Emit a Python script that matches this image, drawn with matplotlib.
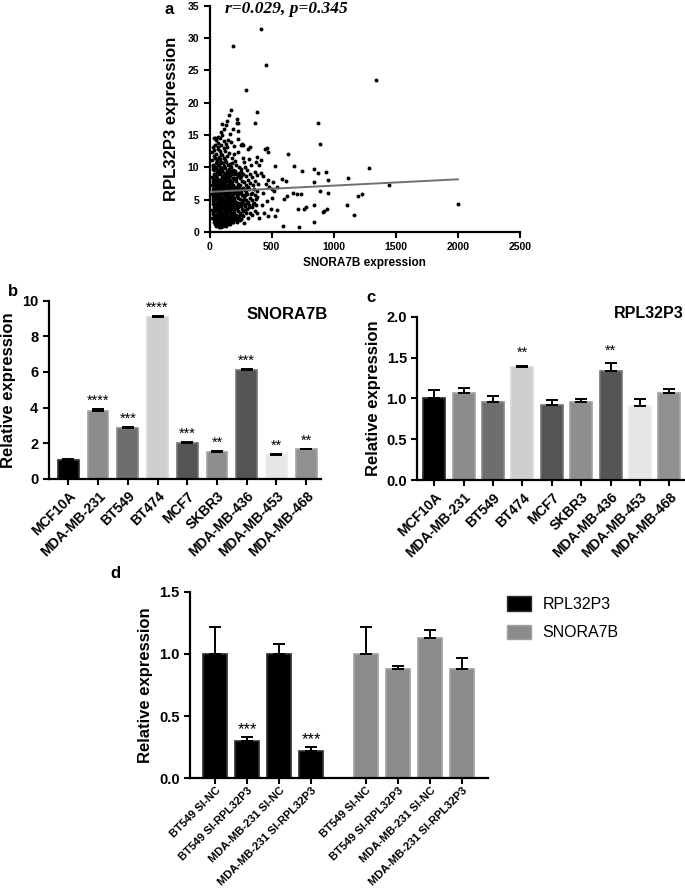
import matplotlib
matplotlib.use("Agg")
import matplotlib.pyplot as plt
import numpy as np

plt.rcParams["font.family"] = ["Liberation Sans", "DejaVu Sans"]

# ---- panel a: SNORA7B vs RPL32P3 expression ----
scatter_pts = [
    # dense cluster
    (21, 2.1), (18, 3.4), (23, 4.8), (19, 5.9), (22, 7.2), (17, 8.5), (24, 9.8), (20, 11.2), (22, 12.4), (26, 6.6),
    (31, 1.5), (28, 2.8), (33, 3.9), (29, 5.1), (32, 6.3), (27, 7.7), (34, 9.0), (30, 10.4), (33, 11.8), (29, 4.4), (35, 8.2),
    (41, 1.2), (38, 2.3), (43, 3.2), (39, 4.3), (44, 5.5), (37, 6.8), (42, 7.5), (45, 8.8), (40, 10.1), (43, 11.5), (38, 12.7), (46, 6.0),
    (52, 0.9), (48, 1.9), (53, 2.7), (49, 3.7), (55, 4.6), (51, 5.3), (47, 6.2), (54, 7.0), (50, 7.9), (56, 9.3), (49, 10.7), (53, 12.1), (57, 4.1), (48, 8.6),
    (61, 1.4), (58, 2.2), (63, 3.0), (59, 3.9), (64, 4.9), (60, 5.8), (66, 6.5), (62, 7.4), (57, 8.3), (65, 9.6), (61, 11.0), (63, 12.9), (67, 5.2), (59, 2.6),
    (71, 0.8), (68, 1.7), (73, 2.5), (69, 3.4), (75, 4.3), (72, 5.0), (67, 5.6), (74, 6.9), (70, 7.7), (76, 8.9), (71, 10.3), (73, 11.6), (77, 6.2), (69, 4.7),
    (81, 1.1), (78, 2.0), (83, 2.9), (79, 3.6), (85, 4.5), (82, 5.4), (77, 6.0), (84, 7.1), (80, 8.0), (86, 9.1), (81, 10.0), (83, 11.3), (79, 12.5), (87, 3.2),
    (91, 0.7), (88, 1.6), (93, 2.4), (89, 3.3), (95, 4.0), (92, 4.8), (87, 5.7), (94, 6.6), (90, 7.5), (96, 8.7), (91, 9.8), (93, 10.9), (89, 12.0), (97, 6.1),
    (101, 1.3), (98, 2.1), (104, 3.0), (99, 3.8), (106, 4.6), (102, 5.2), (97, 6.0), (105, 6.9), (100, 7.8), (107, 8.5), (102, 9.4), (104, 10.6), (99, 11.9), (108, 4.3),
    (111, 1.0), (108, 1.8), (114, 2.7), (109, 3.5), (116, 4.4), (112, 5.5), (107, 6.3), (115, 7.2), (110, 8.1), (117, 9.2), (112, 10.2), (114, 11.4), (118, 5.0),
    (121, 1.5), (118, 2.3), (124, 3.2), (119, 4.1), (126, 4.9), (122, 5.8), (117, 6.7), (125, 7.6), (120, 8.8), (127, 9.9), (122, 11.1), (124, 12.6), (128, 3.6),
    (131, 0.9), (128, 2.0), (134, 2.9), (129, 3.7), (136, 4.7), (132, 5.4), (127, 6.4), (135, 7.3), (130, 8.4), (137, 9.5), (132, 10.8), (138, 2.5),
    (141, 1.4), (138, 2.6), (144, 3.4), (139, 4.2), (146, 5.1), (142, 6.0), (137, 6.9), (145, 7.9), (140, 9.0), (147, 10.3), (142, 11.7), (148, 4.6),
    (151, 1.7), (148, 2.4), (154, 3.1), (149, 4.0), (156, 4.9), (152, 5.7), (147, 6.6), (155, 7.4), (150, 8.6), (157, 9.7), (152, 12.2), (158, 5.3),
    (161, 1.2), (158, 2.2), (164, 3.3), (159, 4.4), (166, 5.2), (162, 6.2), (157, 7.1), (165, 8.1), (160, 9.3), (167, 10.5), (163, 3.8),
    (171, 1.8), (168, 2.8), (174, 3.6), (169, 4.5), (176, 5.5), (172, 6.5), (167, 7.6), (175, 8.9), (170, 10.0), (177, 11.5), (173, 4.0),
    (181, 2.1), (178, 3.0), (184, 3.9), (179, 4.8), (186, 5.9), (182, 6.8), (177, 7.8), (185, 9.1), (180, 10.7), (187, 2.6),
    (191, 1.5), (188, 2.5), (194, 3.5), (189, 4.3), (196, 5.3), (192, 6.3), (187, 7.3), (195, 8.4), (190, 9.6), (197, 12.0),
    (201, 2.0), (198, 3.1), (204, 4.1), (199, 5.0), (206, 6.0), (202, 7.0), (197, 8.2), (205, 9.4), (200, 11.0), (207, 3.6),
    (216, 1.6), (212, 2.7), (219, 3.7), (214, 4.6), (221, 5.6), (217, 6.7), (211, 7.9), (220, 9.0), (215, 10.4),
    (231, 2.3), (227, 3.3), (234, 4.4), (229, 5.3), (236, 6.4), (232, 7.5), (226, 8.7), (235, 10.1), (230, 12.3),
    (246, 1.9), (242, 3.0), (249, 4.0), (244, 5.1), (251, 6.1), (247, 7.2), (241, 8.3), (250, 9.7),
    (261, 2.6), (257, 3.6), (264, 4.7), (259, 5.7), (266, 6.8), (262, 7.9), (256, 9.3), (265, 11.4),
    (276, 1.4), (272, 3.2), (279, 4.3), (274, 5.4), (281, 6.5), (277, 7.7), (271, 9.0), (280, 10.8),
    (291, 2.9), (287, 4.0), (294, 5.0), (289, 6.2), (296, 7.3), (292, 8.6), (286, 10.0),
    (306, 2.2), (302, 3.5), (309, 4.6), (304, 5.8), (311, 6.9), (307, 8.1), (301, 9.6), (310, 12.8),
    (321, 3.0), (317, 4.2), (324, 5.3), (319, 6.6), (326, 7.6), (322, 9.0), (316, 11.3),
    (341, 2.6), (337, 3.8), (344, 5.0), (339, 6.1), (346, 7.2), (342, 8.5), (336, 10.4),
    (361, 3.3), (357, 4.5), (364, 5.7), (359, 6.7), (366, 7.9), (362, 9.3),
    (381, 2.9), (377, 4.1), (384, 5.4), (379, 6.4), (386, 7.4), (382, 8.8), (376, 10.9),
    # core of the cluster, second pass
    (25, 2.9), (27, 5.4), (24, 8.0), (26, 10.2), (35, 2.0), (36, 4.9), (34, 7.1), (36, 9.6),
    (45, 1.6), (46, 3.6), (44, 6.5), (47, 9.9), (55, 2.3), (54, 5.7), (56, 8.0), (55, 11.3),
    (65, 1.9), (64, 4.4), (66, 6.9), (65, 10.4), (75, 1.3), (76, 3.8), (74, 6.5), (75, 9.5),
    (85, 2.5), (84, 4.9), (86, 7.6), (85, 10.6), (95, 1.2), (96, 3.6), (94, 5.3), (95, 8.2),
    (105, 1.7), (104, 4.0), (106, 7.3), (105, 9.9), (115, 2.2), (114, 4.8), (116, 6.8), (115, 8.7),
    (125, 1.1), (124, 3.8), (126, 6.2), (125, 8.2), (135, 1.7), (134, 4.2), (136, 5.9), (135, 8.0),
    (145, 2.0), (144, 3.8), (146, 6.4), (145, 8.4), (155, 1.3), (154, 3.6), (156, 6.1), (155, 9.0),
    (165, 1.7), (164, 3.9), (166, 6.7), (165, 8.6), (175, 2.3), (174, 5.0), (176, 7.1), (175, 9.5),
    (185, 1.6), (184, 4.3), (186, 6.3), (185, 8.3), (195, 2.0), (194, 4.8), (196, 6.8), (195, 9.0),
    (210, 2.2), (209, 4.1), (211, 6.2), (210, 8.4), (225, 1.8), (224, 3.8), (226, 5.8), (225, 7.0),
    (240, 2.5), (239, 4.5), (241, 6.6), (240, 9.1), (255, 2.0), (254, 4.2), (256, 6.3), (255, 8.6),
    (270, 2.4), (269, 5.0), (284, 3.4), (285, 5.7), (298, 4.5), (299, 6.8), (313, 3.9), (330, 5.8),
    (350, 4.4), (370, 5.1),
    # upper edge of the cluster
    (38, 14.5), (52, 14.2), (65, 13.8), (80, 14.6), (95, 13.4), (112, 14.1), (128, 13.6), (150, 14.3),
    (172, 13.9), (196, 13.3), (225, 14.4), (260, 13.6), (30, 13.2), (70, 13.1), (118, 13.0), (45, 13.5), (140, 13.2),
    (43, 14.6), (67, 14.7), (102, 15.0), (113, 15.9), (225, 15.6), (129, 16.5), (139, 17.1), (102, 16.7),
    (217, 17.5), (153, 18.1), (172, 18.8), (217, 16.8), (228, 16.8), (88, 15.4), (160, 15.2), (190, 16.0),
    (365, 16.8), (378, 18.5), (250, 13.5), (270, 13.4), (325, 13.2), (462, 13.0),
    # right shoulder of the cluster
    (410, 9.2), (430, 8.6), (455, 7.4), (480, 6.9), (500, 6.6), (520, 6.4), (540, 6.9), (505, 5.2),
    (460, 4.8), (420, 4.1), (440, 3.0), (490, 3.6), (400, 2.2), (430, 6.0), (470, 8.1), (510, 7.8),
    (395, 10.3), (415, 11.1), (380, 11.6), (446, 12.8), (472, 12.3),
    # sparse points and outliers
    (413, 31.4), (190, 28.8), (454, 25.9), (293, 22.0), (1337, 23.5),
    (870, 16.9), (889, 13.6), (633, 12.1), (526, 10.2), (682, 10.2), (746, 9.5), (843, 9.7), (875, 9.2),
    (585, 8.2), (615, 7.9), (843, 7.7), (674, 6.1), (700, 5.9), (733, 5.8), (623, 5.6), (599, 5.1),
    (776, 3.8), (762, 3.5), (714, 3.6), (838, 4.1), (545, 3.4), (526, 2.5), (472, 2.4), (588, 1.0),
    (720, 0.8), (843, 1.6), (921, 3.2), (934, 9.3), (951, 8.0), (1117, 8.3), (1281, 9.9), (1445, 7.2),
    (2001, 4.4), (891, 6.3), (956, 6.1), (1193, 5.6), (1225, 5.9), (1106, 4.1), (1160, 2.7), (915, 3.1), (943, 3.6),
]
fit_x = [0, 2000]
fit_y = [6.2, 8.15]

# ---- panel b / c: cell lines ----
cell_lines = ["MCF10A", "MDA-MB-231", "BT549", "BT474", "MCF7",
              "SKBR3", "MDA-MB-436", "MDA-MB-453", "MDA-MB-468"]
snora_mean = [1.05, 3.78, 2.85, 9.08, 2.03, 1.52, 6.10, 1.32, 1.65]
snora_err = [0.05, 0.12, 0.03, 0.06, 0.03, 0.04, 0.06, 0.04, 0.03]
snora_stars = ["", "****", "***", "****", "***", "**", "***", "**", "**"]

rpl_mean = [1.01, 1.07, 0.95, 1.38, 0.92, 0.95, 1.34, 0.91, 1.07]
rpl_err = [0.09, 0.06, 0.08, 0.02, 0.06, 0.04, 0.09, 0.08, 0.04]
rpl_stars = ["", "", "", "**", "", "", "**", "", ""]

cell_colors = ["#000000", "#8c8c8c", "#6e6e6e", "#cfcfcf", "#555555",
               "#8e8e8e", "#555555", "#e6e6e6", "#909090"]

# ---- panel d: knockdown ----
kd_labels = ["BT549 SI-NC", "BT549 SI-RPL32P3", "MDA-MB-231 SI-NC", "MDA-MB-231 SI-RPL32P3"]
kd_rpl_mean = [1.00, 0.30, 1.00, 0.22]
kd_rpl_err = [0.22, 0.03, 0.08, 0.03]
kd_rpl_stars = ["", "***", "", "***"]
kd_snora_mean = [1.00, 0.88, 1.13, 0.88]
kd_snora_err = [0.22, 0.02, 0.06, 0.09]

W, H = 685, 891


def px_axes(fig, left, top, right, bottom):
    return fig.add_axes([left / W, 1 - bottom / H, (right - left) / W, (bottom - top) / H])


def style_axes(ax):
    for side in ["top", "right"]:
        ax.spines[side].set_visible(False)
    for side in ["left", "bottom"]:
        ax.spines[side].set_linewidth(1.6)
    ax.tick_params(direction="out", length=4, width=1.5)


def set_ticks(ax, xticks, xlabels, xsize, yticks, ylabels, ysize, rotate=True):
    ax.set_xticks(xticks)
    if rotate:
        ax.set_xticklabels(xlabels, rotation=45, ha="right", rotation_mode="anchor",
                           fontsize=xsize, fontweight="bold")
    else:
        ax.set_xticklabels(xlabels, fontsize=xsize, fontweight="bold")
    ax.set_yticks(yticks)
    ax.set_yticklabels(ylabels, fontsize=ysize, fontweight="bold")


def lighten(color, amount=0.18):
    c = np.array(matplotlib.colors.to_rgb(color))
    return tuple(c + (1 - c) * amount)


def bar_panel(ax, x, means, errs, colors, width):
    ax.bar(x, means, width=width, color=colors,
           edgecolor=[lighten(c) for c in colors], linewidth=1.2, zorder=2)
    ax.errorbar(x, means, yerr=[np.zeros(len(errs)), errs], fmt="none",
                ecolor="black", elinewidth=1.4, capsize=4, capthick=1.4, zorder=3)


fig = plt.figure(figsize=(W / 100, H / 100), dpi=100)

# panel a
ax_a = px_axes(fig, 209.7, 5.7, 520, 232)
sx, sy = zip(*scatter_pts)
ax_a.scatter(sx, sy, s=8, color="black", linewidths=0, zorder=2)
ax_a.plot(fit_x, fit_y, color="#6f6f6f", lw=1.4, zorder=3)
ax_a.set_xlim(0, 2500)
ax_a.set_ylim(0, 35)
style_axes(ax_a)
set_ticks(ax_a, range(0, 2501, 500), [str(v) for v in range(0, 2501, 500)], 7.5,
          range(0, 36, 5), [str(v) for v in range(0, 36, 5)], 7.5, rotate=False)
ax_a.set_xlabel("SNORA7B expression", fontsize=8.5, fontweight="bold", labelpad=3)
ax_a.set_ylabel("RPL32P3 expression", fontsize=12, fontweight="bold", labelpad=6)
fig.text(286 / W, 1 - 9 / H, "r=0.029, p=0.345", family="Liberation Serif",
         fontsize=12.5, fontweight="bold", style="italic", ha="center", va="center")
fig.text(169 / W, 1 - 10 / H, "a", fontsize=12, fontweight="bold", ha="center", va="center")

# panel b
xb = np.arange(len(cell_lines))
ax_b = px_axes(fig, 48.7, 300.7, 321, 478.7)
bar_panel(ax_b, xb, snora_mean, snora_err, cell_colors, 0.7)
ax_b.set_xlim(-0.66, 8.5)
ax_b.set_ylim(0, 10)
style_axes(ax_b)
set_ticks(ax_b, xb, cell_lines, 10, range(0, 11, 2), [str(v) for v in range(0, 11, 2)], 10.5)
ax_b.set_ylabel("Relative expression", fontsize=12, fontweight="bold", labelpad=4)
for i, st in enumerate(snora_stars):
    if st:
        ax_b.annotate(st, (xb[i], snora_mean[i] + snora_err[i]), xytext=(0, 1),
                      textcoords="offset points", ha="center", va="bottom", fontsize=10.5)
ax_b.text(1.026, 0.92, "SNORA7B", transform=ax_b.transAxes, ha="right", va="center",
          fontsize=12, fontweight="bold")
fig.text(13 / W, 1 - 292 / H, "b", fontsize=12, fontweight="bold", ha="center", va="center")

# panel c
ax_c = px_axes(fig, 417.3, 316.7, 684, 480)
bar_panel(ax_c, xb, rpl_mean, rpl_err, cell_colors, 0.75)
ax_c.set_xlim(-0.58, 8.5)
ax_c.set_ylim(0, 2)
style_axes(ax_c)
set_ticks(ax_c, xb, cell_lines, 10, [0, 0.5, 1.0, 1.5, 2.0],
          ["0.0", "0.5", "1.0", "1.5", "2.0"], 10.5)
ax_c.set_ylabel("Relative expression", fontsize=12, fontweight="bold", labelpad=4)
for i, st in enumerate(rpl_stars):
    if st:
        ax_c.annotate(st, (xb[i], rpl_mean[i] + rpl_err[i]), xytext=(0, 4),
                      textcoords="offset points", ha="center", va="bottom", fontsize=10.5)
ax_c.text(1.0, 1.02, "RPL32P3", transform=ax_c.transAxes, ha="right", va="center",
          fontsize=11.5, fontweight="bold")
fig.text(371 / W, 1 - 298 / H, "c", fontsize=12, fontweight="bold", ha="center", va="center")

# panel d
xd_rpl = np.arange(4)
xd_sno = np.arange(4) + 4.7
ax_d = px_axes(fig, 190, 591.7, 488, 778.3)
bar_panel(ax_d, xd_rpl, kd_rpl_mean, kd_rpl_err, ["#000000"] * 4, 0.75)
bar_panel(ax_d, xd_sno, kd_snora_mean, kd_snora_err, ["#8c8c8c"] * 4, 0.75)
ax_d.set_xlim(-0.78, 8.5)
ax_d.set_ylim(0, 1.5)
style_axes(ax_d)
set_ticks(ax_d, np.concatenate([xd_rpl, xd_sno]), kd_labels + kd_labels, 8.0,
          [0, 0.5, 1.0, 1.5], ["0.0", "0.5", "1.0", "1.5"], 10.5)
ax_d.tick_params(axis="x", pad=1)
ax_d.set_ylabel("Relative expression", fontsize=12, fontweight="bold", labelpad=4)
for i, st in enumerate(kd_rpl_stars):
    if st:
        ax_d.annotate(st, (xd_rpl[i], kd_rpl_mean[i] + kd_rpl_err[i]), xytext=(0, 0),
                      textcoords="offset points", ha="center", va="bottom", fontsize=12)
fig.text(115 / W, 1 - 574 / H, "d", fontsize=12, fontweight="bold", ha="center", va="center")

# legend for panel d
handles = [matplotlib.patches.Patch(facecolor="#000000", edgecolor=lighten("#000000")),
           matplotlib.patches.Patch(facecolor="#8c8c8c", edgecolor=lighten("#8c8c8c"))]
fig.legend(handles, ["RPL32P3", "SNORA7B"], loc="upper left",
           bbox_to_anchor=(493 / W, 1 - 582 / H), frameon=False, fontsize=11.5,
           handlelength=1.5, handleheight=1.0, labelspacing=0.8, handletextpad=0.7)

fig.savefig("out.png", dpi=100)
